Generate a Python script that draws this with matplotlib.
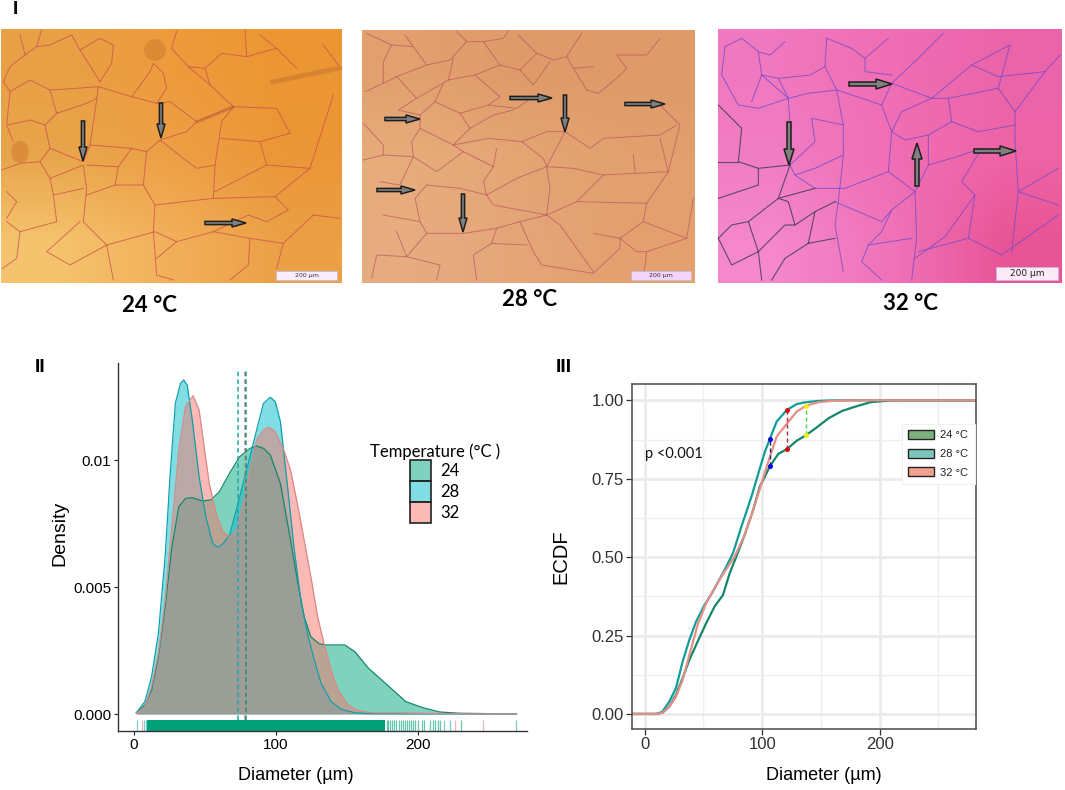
import numpy as np
import matplotlib
matplotlib.use('Agg')
import matplotlib.pyplot as plt
from matplotlib.patches import FancyArrow, Rectangle, Patch, Ellipse

W, H = 1065, 790

# ---- density curves (panel II)
x24 = [1.9, 7.9, 12.6, 17.4, 22.1, 26.9, 31.7, 36.4, 41.2, 48.3, 54.3, 60.2, 67.4, 74.5, 81.7, 86.4, 91.2, 96,
       103.1, 110.2, 115, 119.8, 124.5, 130.5, 135.2, 148.3, 155.5, 165, 176.9, 191.2, 203.1, 215, 229.3, 269]
d24 = [.00005, .00035, .00094, .00226, .00423, .00659, .00816, .00849, .00852, .00839, .00843, .00875, .00948,
       .01013, .01046, .01055, .01046, .0102, .00908, .00685, .00528, .00383, .00304, .00276, .00272, .00272,
       .00245, .0018, .00121, .00049, .00025, .00008, .00003, 0]
x28 = [1.9, 7.9, 12.6, 17.4, 22.1, 25.7, 29.3, 32.9, 35.2, 37.6, 41.2, 46, 50.7, 55.5, 59, 62.6, 67.4, 72.1, 76.9,
       81.7, 86.4, 91.2, 96, 99.5, 103.1, 107.9, 112.6, 117.4, 122.1, 126.9, 131.7, 138.8, 146, 155.5, 167.4, 269]
d28 = [.00005, .00049, .00147, .00318, .00619, .00948, .01223, .01302, .01315, .01295, .01157, .00934, .00777,
       .00672, .00656, .00669, .00705, .00803, .00908, .01013, .01118, .01223, .01247, .0123, .01151, .00908,
       .00659, .00449, .00318, .00213, .00121, .00049, .00018, .00005, .00001, 0]
x32 = [1.9, 7.9, 12.6, 17.4, 22.1, 26.9, 31.7, 36.4, 41.7, 46, 49.5, 53.1, 57.9, 62.6, 67.9, 72.1, 76.9, 81.7, 86.4,
       91.2, 94.8, 99.5, 105.5, 110.2, 115, 119.8, 124.5, 129.3, 134, 138.8, 143.6, 150.7, 157.9, 167.4, 186.4, 215, 269]
d32 = [.00003, .00029, .00108, .00239, .00449, .00738, .01039, .0121, .01253, .01197, .01052, .00908, .0079, .00718,
       .00696, .00724, .00829, .00961, .01079, .01118, .01129, .01112, .01039, .00961, .00829, .00685, .00541,
       .00383, .00272, .00173, .00094, .00035, .00013, .00005, .00005, .00001, 0]

mean24, mean28, mean32 = 78.9, 73.0, 78.2

# rug: solid run of values then the single ticks of the long tail
rug_band = (9.6, 176.6)
rug_ticks_24 = [177.8, 178.9, 180.1, 181.3, 182.9, 184.3, 186.2, 187.6, 189.5, 190.7, 191.9, 193.5, 194.9, 196.6,
                197.7, 200, 202.4, 204, 208.2, 210.1, 211.7, 214, 215.2, 229.7]
rug_ticks_28 = [2.6, 7.5, 8.7, 218.3, 222.2, 268.6]
rug_ticks_32 = [5.6, 225.8, 245.2]

# ---- ECDF curves (panel III)
ex24 = [-11, 10, 15.1, 20.9, 26.6, 32.3, 38, 45.1, 52.3, 59.4, 66.6, 72.3, 78, 85.1, 92.3, 98, 102.3, 106.6, 113.7,
        120.9, 129.4, 137.4, 146.6, 156.6, 168, 179.4, 192.3, 208, 225, 285]
ey24 = [0, 0, .004, .023, .06, .114, .172, .231, .289, .342, .379, .448, .502, .571, .65, .725, .757, .79, .829,
        .844, .871, .889, .914, .943, .966, .98, .994, .999, 1, 1]
ex28 = [-11, 10, 15, 20.9, 26.6, 32.3, 38, 43.7, 50.9, 58, 68, 75.1, 82.3, 90.9, 98, 102.3, 106.6, 112.3, 120.9,
        129.4, 137.4, 148, 162, 285]
ey28 = [0, 0, .007, .039, .082, .167, .236, .294, .347, .39, .459, .512, .597, .693, .783, .836, .877, .932, .969,
        .988, .994, .998, 1, 1]
ex32 = [-11, 10, 15, 20.9, 26.6, 32.3, 38, 45.1, 52.3, 59.4, 68, 76.6, 85.1, 92.3, 99.4, 106.6, 112.3, 120.9, 129.4,
        137.4, 148, 162, 182, 285]
ey32 = [0, 0, .004, .023, .055, .108, .188, .284, .353, .401, .454, .502, .571, .65, .735, .82, .884, .925, .964,
        .983, .994, .999, 1, 1]

# KS style markers: x position, upper and lower curve value
gap_x = [106.6, 120.9, 137.4]
gap_top = [.877, .969, .983]
gap_low = [.79, .844, .889]
gap_marker = ['#0808E0', '#E00808', '#F8F000']
gap_dash = ['#25258F', '#A83040', '#45E045']

density_ticks = [0, 0.005, 0.01]
density_labels = ['0.000', '0.005', '0.01']
ecdf_ticks = [0, .25, .5, .75, 1]
ecdf_labels = ['0.00', '0.25', '0.50', '0.75', '1.00']
diam_ticks = [0, 100, 200]
temps = ['24', '28', '32']
ecdf_legend = ['24 °C', '28 °C', '32 °C']

# ---- micrographs (panel I): coarse colours, cell borders in crop pixels, arrows in figure pixels
bg1 = [[(232, 160, 70), (238, 155, 60), (235, 150, 50)],
       [(232, 165, 75), (238, 160, 70), (235, 150, 55)],
       [(245, 195, 110), (242, 175, 90), (235, 160, 70)]]
bg2 = [[(225, 160, 110), (222, 155, 105), (222, 155, 105)],
       [(230, 172, 122), (228, 165, 115), (225, 160, 110)],
       [(230, 172, 128), (228, 165, 120), (228, 160, 110)]]
bg3 = [[(240, 120, 190), (240, 110, 180), (235, 100, 170)],
       [(240, 125, 195), (240, 110, 180), (238, 100, 165)],
       [(245, 135, 205), (240, 115, 185), (232, 85, 150)]]

cells1 = [
    [(60, 30), (75, 90), (30, 125), (10, 170), (30, 200), (20, 300), (40, 350)],
    [(75, 90), (110, 65), (125, 15)],
    [(110, 65), (150, 60), (215, 30), (240, 75), (300, 170)],
    [(240, 75), (300, 40), (340, 60), (335, 115), (300, 170)],
    [(30, 200), (90, 165), (150, 195), (170, 265), (135, 300), (90, 285), (25, 300)],
    [(150, 195), (230, 190), (295, 185), (395, 215), (470, 235), (510, 230), (590, 290), (700, 245)],
    [(395, 215), (450, 140), (460, 115), (490, 145), (500, 190), (470, 235)],
    [(295, 185), (285, 260), (270, 360), (395, 370), (440, 380), (480, 345), (560, 320), (590, 290)],
    [(170, 265), (260, 235), (290, 220)],
    [(135, 300), (150, 370), (120, 410), (60, 415), (5, 435)],
    [(150, 370), (250, 410), (270, 360)],
    [(120, 410), (150, 460), (250, 420), (260, 490), (250, 590), (320, 660), (465, 620), (530, 650), (640, 620)],
    [(150, 460), (160, 510), (250, 490)],
    [(395, 370), (355, 425), (260, 420)],
    [(355, 425), (345, 480), (260, 510)],
    [(345, 480), (430, 480), (440, 380)],
    [(430, 480), (465, 540), (460, 620)],
    [(465, 540), (640, 520), (645, 420), (590, 430), (550, 400), (480, 345)],
    [(645, 420), (665, 290), (700, 245)],
    [(640, 520), (825, 515), (930, 430), (1000, 210)],
    [(825, 515), (865, 555), (800, 590), (745, 570), (640, 620)],
    [(870, 325), (780, 350), (660, 340)],
    [(780, 350), (800, 420), (645, 500)],
    [(800, 420), (930, 430)],
    [(870, 325), (830, 250), (700, 245)],
    [(700, 245), (630, 180), (565, 125), (515, 70), (530, 20)],
    [(565, 125), (615, 130), (630, 180)],
    [(615, 130), (665, 85), (740, 95), (735, 15)],
    [(740, 95), (830, 70), (890, 130)],
    [(830, 70), (780, 30)],
    [(970, 60), (1015, 120)],
    [(640, 620), (750, 640), (745, 720), (690, 765)],
    [(750, 640), (850, 655), (940, 570)],
    [(850, 655), (830, 730)],
    [(940, 570), (1020, 580)],
    [(320, 660), (340, 765)],
    [(320, 660), (210, 720), (140, 680), (240, 590)],
    [(160, 510), (170, 590), (60, 620), (20, 590)],
    [(60, 620), (50, 700), (8, 730)],
    [(20, 500), (50, 530), (20, 580)],
    [(460, 620), (470, 750), (520, 765)],
    [(530, 650), (470, 700)],
]
cells2 = [
    [(20, 25), (95, 60), (70, 110), (70, 175), (15, 200)],
    [(95, 60), (160, 65), (200, 120), (270, 105), (320, 50), (290, 20)],
    [(160, 65), (135, 30)],
    [(320, 50), (370, 50), (420, 120), (345, 150), (265, 165), (280, 100)],
    [(370, 50), (430, 40), (445, 18)],
    [(420, 120), (480, 135), (530, 85), (475, 30)],
    [(530, 85), (580, 105), (620, 95), (665, 25)],
    [(620, 95), (640, 130), (700, 125)],
    [(480, 135), (520, 180), (570, 110)],
    [(640, 130), (680, 195), (715, 205), (770, 160), (800, 130), (770, 90), (860, 90), (900, 40)],
    [(200, 120), (110, 155), (70, 175)],
    [(110, 155), (170, 220), (265, 165)],
    [(170, 220), (115, 255), (180, 270), (225, 230), (250, 175)],
    [(225, 230), (300, 265), (385, 240), (420, 215), (345, 150)],
    [(385, 240), (470, 250), (520, 215)],
    [(300, 265), (330, 310), (280, 360), (180, 310), (180, 270)],
    [(330, 310), (400, 270), (460, 255)],
    [(280, 360), (385, 340), (485, 350), (560, 320), (615, 320)],
    [(485, 350), (550, 400), (560, 425), (640, 430), (730, 450), (925, 440), (960, 300), (900, 240)],
    [(615, 320), (560, 425), (470, 460), (380, 510), (300, 490)],
    [(180, 310), (155, 350), (160, 395), (230, 440), (310, 380)],
    [(280, 360), (310, 380), (400, 425), (410, 370)],
    [(400, 425), (370, 470), (380, 510)],
    [(160, 395), (70, 390), (10, 405)],
    [(70, 390), (70, 360), (10, 295)],
    [(160, 395), (120, 480), (60, 470)],
    [(200, 480), (300, 490)],
    [(200, 480), (165, 520), (180, 590), (70, 570)],
    [(380, 510), (400, 540), (560, 570), (650, 530), (730, 450)],
    [(560, 570), (570, 490), (560, 425)],
    [(650, 530), (860, 535), (925, 440)],
    [(860, 535), (850, 590), (780, 640)],
    [(850, 590), (980, 640), (1000, 520)],
    [(560, 570), (480, 590), (410, 610), (310, 625), (200, 625), (180, 590)],
    [(480, 590), (520, 680), (545, 720), (700, 745)],
    [(560, 570), (600, 600), (700, 740)],
    [(410, 610), (395, 655), (500, 660)],
    [(395, 655), (340, 690), (350, 765)],
    [(200, 625), (140, 695), (110, 620)],
    [(140, 695), (50, 690), (35, 760)],
    [(140, 695), (240, 720), (230, 765)],
    [(700, 625), (780, 640), (780, 670), (700, 745)],
    [(615, 320), (690, 370), (730, 340), (900, 330), (950, 300)],
    [(820, 390), (825, 440)],
    [(900, 340), (925, 440)],
    [(780, 640), (830, 680), (860, 680), (980, 640)],
    [(860, 680), (850, 765)],
]
cells3 = [
    [(30, 65), (80, 40), (130, 80), (165, 90), (210, 50)],
    [(30, 65), (20, 150), (70, 240), (130, 250), (220, 220)],
    [(130, 80), (140, 150), (110, 230)],
    [(140, 150), (220, 220), (190, 160), (140, 150)],
    [(190, 160), (285, 150), (330, 125), (335, 40)],
    [(335, 40), (410, 70), (450, 100), (520, 40)],
    [(450, 100), (450, 140), (530, 150)],
    [(330, 125), (365, 195), (385, 300), (385, 390), (370, 530), (360, 600), (385, 740)],
    [(365, 195), (280, 205), (220, 220), (225, 300)],
    [(365, 195), (500, 240), (530, 175), (610, 100), (685, 25)],
    [(500, 240), (530, 320), (520, 440), (600, 500), (605, 640), (590, 765)],
    [(530, 320), (570, 345), (640, 330), (710, 290), (700, 220), (650, 220), (560, 260), (530, 320)],
    [(530, 175), (650, 220), (770, 120), (885, 60), (850, 190), (900, 260), (900, 350)],
    [(770, 120), (850, 155), (990, 140), (1035, 90)],
    [(900, 260), (990, 140)],
    [(700, 220), (850, 190)],
    [(710, 290), (790, 320), (900, 300)],
    [(640, 330), (640, 420), (710, 400), (800, 370)],
    [(800, 370), (740, 470), (780, 510), (690, 635), (600, 700)],
    [(640, 420), (600, 500)],
    [(900, 350), (910, 500), (890, 680)],
    [(910, 500), (1030, 430)],
    [(910, 500), (1030, 540)],
    [(780, 510), (760, 640), (860, 690), (1030, 570)],
    [(760, 640), (610, 680)],
    [(225, 300), (225, 420), (300, 350), (290, 280), (385, 300)],
    [(225, 420), (240, 450), (300, 490), (390, 490), (520, 440)],
    [(385, 390), (300, 430), (240, 450)],
    [(360, 530), (500, 590), (530, 555), (600, 500)],
    [(530, 555), (500, 620), (460, 660), (590, 640)],
    [(460, 660), (440, 710), (500, 765)],
]
cells3_dark = [
    [(225, 420), (130, 430), (70, 410), (80, 310), (10, 240)],
    [(70, 410), (10, 410)],
    [(225, 420), (190, 520), (100, 590), (130, 680), (210, 600), (240, 600), (300, 560), (360, 530)],
    [(190, 520), (220, 530), (240, 600)],
    [(300, 490), (190, 520)],
    [(130, 430), (130, 480), (10, 520)],
    [(130, 680), (50, 720), (10, 640)],
    [(10, 640), (50, 600), (100, 590)],
    [(130, 680), (140, 765)],
    [(280, 655), (210, 700), (170, 765)],
    [(280, 655), (300, 560)],
    [(280, 655), (360, 640)],
]

arrows1 = [(83, 121, 83, 161), (161, 103, 161, 138), (205, 223, 246, 223)]
arrows2 = [(385, 119, 420, 119), (510, 98, 552, 98), (565, 95, 565, 132), (625, 104, 665, 104),
           (377, 190, 415, 190), (463, 194, 463, 232)]
arrows3 = [(849, 84, 892, 84), (789, 122, 789, 165), (917, 186, 917, 143), (974, 151, 1016, 151)]

fig = plt.figure(figsize=(W / 100, H / 100), dpi=100)


def px_axes(left, top, right, bottom):
    return fig.add_axes([left / W, 1 - bottom / H, (right - left) / W, (bottom - top) / H])


# full figure layer in pixel coordinates for panel I and free text
bgax = fig.add_axes([0, 0, 1, 1])
bgax.set_xlim(0, W)
bgax.set_ylim(H, 0)
bgax.axis('off')


def micrograph(colours, cells, extent, offset, line_col, bar, bar_col):
    left, top, right, bottom = extent
    bgax.imshow(np.array(colours, dtype=np.uint8), extent=(left, right, bottom, top),
                interpolation='bilinear', aspect='auto', zorder=1)
    for c in cells:
        pts = np.array(c) / 3.0 + offset
        bgax.plot(pts[:, 0], pts[:, 1], color=line_col, lw=0.7, alpha=0.75, zorder=2, solid_joinstyle='round')
    b = np.array(bar) / 3.0
    bgax.add_patch(Rectangle((b[0] + offset[0], b[1] + offset[1]), b[2] - b[0], b[3] - b[1],
                             fc=bar_col, ec='#C8B8D8', lw=0.5, zorder=4))
    return (b[0] + b[2]) / 2 + offset[0], (b[1] + b[3]) / 2 + offset[1]


bar_xy = micrograph(bg1, cells1, (1, 29, 342, 283), (0, 25), '#C9504A', (828, 738, 1012, 765), '#F8EEFF')
bgax.text(bar_xy[0], bar_xy[1], '200 µm', fontsize=4.5, ha='center', va='center', color='#333333', zorder=5)
bar_xy = micrograph(bg2, cells2, (362, 30, 695, 283), (360, 25), '#BE5A62', (813, 738, 993, 765), '#F2D4FA')
bgax.text(bar_xy[0], bar_xy[1], '200 µm', fontsize=4.5, ha='center', va='center', color='#333333', zorder=5)
bar_xy = micrograph(bg3, cells3, (718, 29, 1062, 283), (715, 25), '#7048C8', (843, 727, 1028, 765), '#FCEAF6')
bgax.plot([], [])
for c in cells3_dark:
    pts = np.array(c) / 3.0 + (715, 25)
    bgax.plot(pts[:, 0], pts[:, 1], color='#3A3A50', lw=0.8, alpha=0.8, zorder=2)
bgax.text(bar_xy[0], bar_xy[1], '200 µm', fontsize=6.5, ha='center', va='center', color='#222222', zorder=5)

# darker stain marks on the first section
bgax.plot([272, 340], [82, 68], color='#C87830', lw=3.5, alpha=0.6, zorder=1.5, solid_capstyle='round')
bgax.plot([197, 233], [122, 107], color='#C87830', lw=2.5, alpha=0.6, zorder=1.5, solid_capstyle='round')
bgax.add_patch(Ellipse((155, 50), 22, 22, fc='#D07C30', ec='none', alpha=0.55, zorder=1.5))
bgax.add_patch(Ellipse((20, 152), 18, 22, fc='#D07C30', ec='none', alpha=0.55, zorder=1.5))

for group, wid, hw, hl in [(arrows1, 3.2, 8, 14), (arrows2, 3.2, 8, 14), (arrows3, 4, 10, 16)]:
    for x0, y0, x1, y1 in group:
        bgax.add_patch(FancyArrow(x0, y0, x1 - x0, y1 - y0, width=wid, head_width=hw, head_length=hl,
                                  length_includes_head=True, fc='#808080', ec='#1E1E1E', lw=1.1, zorder=6))

lato = ['Lato', 'DejaVu Sans']
for x, y, txt in [(149, 305, '24 °C'), (530, 299, '28 °C'), (910, 303, '32 °C')]:
    bgax.text(x, y, txt, fontsize=16, fontweight='bold', family=lato, ha='center', va='center', color='black')
for x, y, txt in [(15, 9, 'I'), (40, 367, 'II'), (564, 367, 'III')]:
    bgax.text(x, y, txt, fontsize=14, fontweight='bold', family='Liberation Sans', ha='center', va='center')

arial = 'Liberation Sans'

# ---- panel II
ax2 = px_axes(118.3, 363, 527, 730.7)
ax2.patch.set_alpha(0)
ax2.set_xlim(-10.8, 276.4)
ax2.set_ylim(-0.000657, 0.01382)
fill_24, line_24 = '#00A67C', '#10896A'
fill_28, line_28 = '#00BCC8', '#10A0AC'
fill_32, line_32 = '#F8766D', '#D88A88'
for xs, ys, fc, lc in [(x24, d24, fill_24, line_24), (x28, d28, fill_28, line_28), (x32, d32, fill_32, line_32)]:
    ax2.fill_between(xs, 0, ys, color=fc, alpha=0.5, lw=0)
    ax2.plot(xs, ys, color=lc, lw=0.9)
for m, c in [(mean28, '#22A6AE'), (mean32, '#C88C8C'), (mean24, '#209080')]:
    ax2.plot([m, m], [-0.00025, 0.0136], color=c, lw=1.1, ls=(0, (3, 2)))

rug_low, rug_high = -0.000657, -0.00022
ax2.fill_between(rug_band, rug_low, rug_high, color='#00A07A', lw=0)
ax2.vlines(rug_ticks_24, rug_low, rug_high, color='#00A07A', lw=0.9, alpha=0.6)
ax2.vlines(rug_ticks_28, rug_low, rug_high, color='#40B8B8', lw=0.9, alpha=0.7)
ax2.vlines(rug_ticks_32, rug_low, rug_high, color='#E8B8B8', lw=0.9)

ax2.set_xticks(diam_ticks)
ax2.set_yticks(density_ticks)
ax2.set_yticklabels(density_labels)
ax2.tick_params(labelsize=11, length=3, width=0.8, color='#222222', pad=2)
for lab in ax2.get_xticklabels() + ax2.get_yticklabels():
    lab.set_family(arial)
ax2.spines['top'].set_visible(False)
ax2.spines['right'].set_visible(False)
for s in ['left', 'bottom']:
    ax2.spines[s].set_linewidth(1)
    ax2.spines[s].set_color('#333333')
bgax.text(296, 775, 'Diameter (µm)', fontsize=13, family=arial, ha='center', va='center')
bgax.text(60, 533, 'Density', fontsize=14, family=arial, rotation=90, ha='center', va='center')

handles2 = [Patch(fc=matplotlib.colors.to_rgba(c, 0.5), ec='#222222', lw=1.2) for c in [fill_24, fill_28, fill_32]]
leg2 = ax2.legend(handles2, temps, title='Temperature (°C )', frameon=False, fontsize=12, title_fontsize=12,
                  handlelength=1.25, handleheight=1.55, labelspacing=0.0, handletextpad=0.6,
                  loc='upper left', bbox_to_anchor=(0.615, 0.78), borderaxespad=0, borderpad=0)
leg2.get_title().set_family(lato)
for t in leg2.get_texts():
    t.set_family(lato)

# ---- panel III
ax3 = px_axes(632, 384.3, 976, 729)
ax3.set_xlim(-10.8, 282)
ax3.set_ylim(-0.048, 1.051)
ax3.set_axisbelow(True)
ax3.set_xticks(diam_ticks)
ax3.set_xticks([50, 150, 250], minor=True)
ax3.set_yticks(ecdf_ticks)
ax3.set_yticklabels(ecdf_labels)
ax3.set_yticks([.125, .375, .625, .875], minor=True)
ax3.grid(which='major', color='#EBEBEB', lw=2)
ax3.grid(which='minor', color='#EFEFEF', lw=1)
ax3.tick_params(which='minor', length=0)
ax3.tick_params(labelsize=12, length=4, width=0.9, color='#333333', labelcolor='#303030', pad=2)
for lab in ax3.get_xticklabels() + ax3.get_yticklabels():
    lab.set_family(arial)
for s in ax3.spines.values():
    s.set_color('#4A4A4A')
    s.set_linewidth(1.1)

ax3.plot(ex24, ey24, color='#12876A', lw=1.6)
ax3.plot(ex28, ey28, color='#119C9C', lw=1.6)
ax3.plot(ex32, ey32, color='#E58E84', lw=1.6)
for x, t, b, mc, dc in zip(gap_x, gap_top, gap_low, gap_marker, gap_dash):
    ax3.plot([x, x], [b, t], color=dc, lw=1, ls=(0, (3, 2)), zorder=4)
    ax3.plot([x, x], [b, t], 'o', color=mc, ms=3.6, mew=0, zorder=5)

ax3.text(0, 0.828, 'p <0.001', fontsize=10.5, family=lato, ha='left', va='center', color='#111111')
handles3 = [Patch(fc=c, ec='#222222', lw=1) for c in ['#7DB07F', '#7CC6BE', '#F4A292']]
leg3 = ax3.legend(handles3, ecdf_legend, frameon=True, fontsize=8, handlelength=2.35, handleheight=0.85,
                  labelspacing=0.75, handletextpad=0.55, borderpad=0.55, borderaxespad=0,
                  loc='upper left', bbox_to_anchor=(0.785, 0.885), fancybox=False, framealpha=1,
                  edgecolor='#F0F0F0')
leg3.get_frame().set_linewidth(0.8)
for t in leg3.get_texts():
    t.set_family(arial)
    t.set_color('#222222')
bgax.text(824, 776, 'Diameter (µm)', fontsize=13, family=arial, ha='center', va='center')
bgax.text(561, 557, 'ECDF', fontsize=14.5, family=arial, rotation=90, ha='center', va='center')

fig.savefig('out.png', dpi=100)
